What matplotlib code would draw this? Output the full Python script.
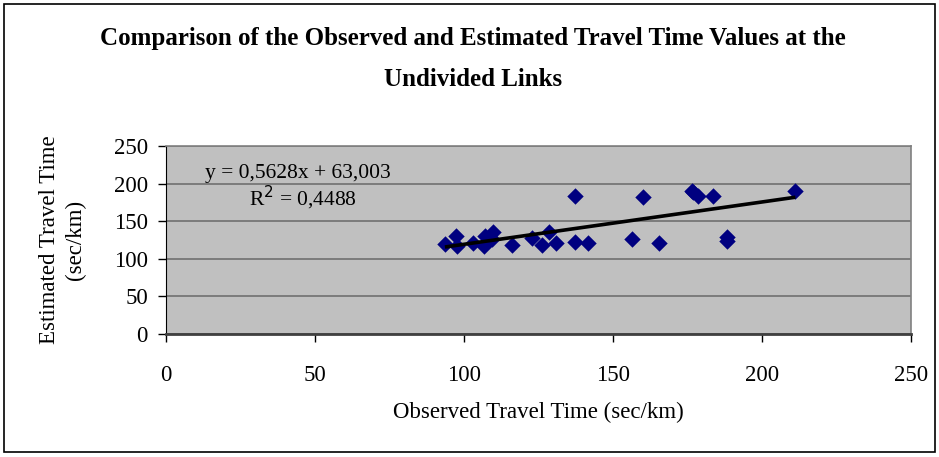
import matplotlib.pyplot as plt
import numpy as np
from matplotlib.patches import Rectangle

# Observed vs estimated travel time (sec/km)
observed = [93.6, 97.3, 97.8, 103.1, 106.7, 107.0, 109.8, 109.3, 116.0, 122.7,
            126.1, 128.6, 130.9, 137.3, 137.3, 141.5, 156.3, 160.2, 165.5,
            176.4, 176.8, 178.6, 183.7, 188.4, 188.4, 211.2]
estimated = [119.7, 130.3, 117.0, 121.4, 117.0, 130.0, 135.6, 126.0, 118.4, 128.0,
             118.4, 135.6, 121.4, 184.0, 122.3, 121.4, 126.0, 182.6, 121.4,
             190.6, 189.0, 183.5, 184.0, 129.4, 124.0, 189.5]

# linear trendline shown on the chart
slope = 0.5628
intercept = 63.003
r_squared = 0.4488

x_ticks = [0, 50, 100, 150, 200, 250]
y_ticks = [0, 50, 100, 150, 200, 250]

plt.rcParams["font.family"] = ["Liberation Serif", "DejaVu Serif"]

fig = plt.figure(figsize=(9.39, 4.57), dpi=100)
ax = fig.add_axes([166 / 939, 1 - 334 / 457, (911 - 166) / 939, (334 - 146) / 457])

# outer chart border
fig.patches.append(Rectangle((4 / 939, 5 / 457), 931 / 939, 448 / 457,
                             transform=fig.transFigure, fill=False,
                             edgecolor="black", linewidth=1.2))

ax.set_facecolor("#c0c0c0")
ax.set_xlim(0, 250)
ax.set_ylim(0, 250)
ax.set_xticks(x_ticks)
ax.set_yticks(y_ticks)
ax.yaxis.grid(True, color="#707070", linewidth=1.2)
ax.set_axisbelow(True)

for side in ["top", "right"]:
    ax.spines[side].set_color("#808080")
    ax.spines[side].set_linewidth(1.2)
ax.spines["bottom"].set_color("#404040")
ax.spines["bottom"].set_linewidth(2)
ax.spines["left"].set_color("black")
ax.tick_params(direction="out", length=6, width=1, labelsize=16.5, pad=7)
ax.tick_params(axis="x", pad=16)

ax.scatter(observed, estimated, marker="D", s=70, color="#000080", zorder=3,
           linewidths=0)

trend_x = np.array([min(observed), max(observed)])
ax.plot(trend_x, slope * trend_x + intercept, color="black", linewidth=2.6,
        zorder=4, solid_capstyle="butt")

ax.text(13, 214, f"y = {slope:.4f}x + {intercept:.3f}".replace(".", ","),
        fontsize=15.5, va="center")
ax.text(28, 181, f"R$^2$ = {r_squared:.4f}".replace(".", ","),
        fontsize=15.5, va="center")

ax.set_xlabel("Observed Travel Time (sec/km)", fontsize=16.5, labelpad=12)
ax.set_ylabel("Estimated Travel Time\n(sec/km)", fontsize=16.5, labelpad=20,
              linespacing=1.3)

fig.text(473 / 939, 1 - 59 / 457,
         "Comparison of the Observed and Estimated Travel Time Values at the\nUndivided Links",
         ha="center", va="center", fontsize=18, fontweight="bold", linespacing=2.0)

fig.savefig("out.png", dpi=100)
